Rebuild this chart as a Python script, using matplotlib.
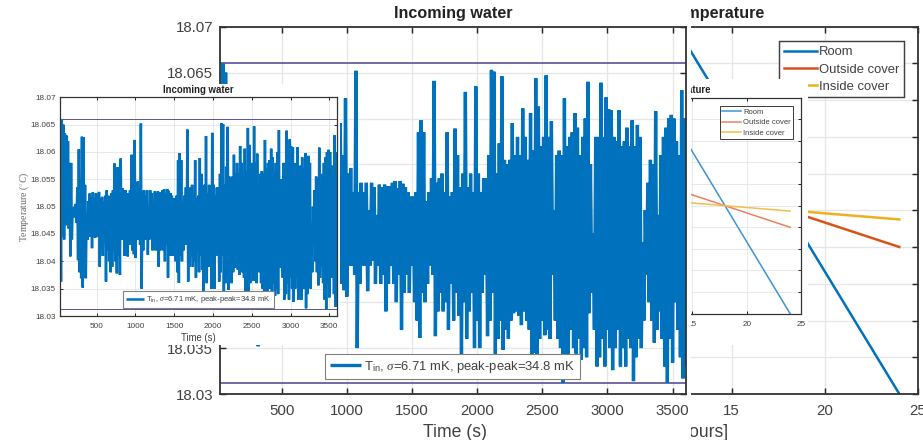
import numpy as np
import matplotlib
matplotlib.use("Agg")
import matplotlib.pyplot as plt
from matplotlib.patches import Rectangle

plt.rcParams['font.family'] = ['Liberation Sans', 'DejaVu Sans']
plt.rcParams['mathtext.fontset'] = 'custom'
plt.rcParams['mathtext.rm'] = 'Liberation Sans'
plt.rcParams['mathtext.it'] = 'Liberation Serif:italic'

W, H = 923, 440
BLUE, RED, YEL = '#0072BD', '#D95319', '#EDB120'
BLUE2, RED2, YEL2 = '#3F93CF', '#E9835F', '#F2BE4E'
PURPLE = '#5B5299'
GRID = '#E6E6E6'
TXT = '#404040'

# ---- data (water: mK above 18 C, sampled every 20 s)
water_time = np.arange(30, 3600, 20)
water_high = [
 58.5,66,65,63.4,63, 62,58,58,49.5,50, 50.5,53.5,60.5,55,62.8, 62.7,54,48.5,51,52.4,
 51.5,52.6,51.5,52.5,52.2, 52.7,51.5,51.8,51,52, 53,52,51.5,52.5,53, 57.9,55,57.2,53,58.8,
 53.4,52,53,52,52.5, 53,59.5,56,62.2,54, 54.6,52,65.2,52,53, 52,53,50,53,52.5,
 49.5,52.8,52.5,52.8,52.6, 52.6,53,53.2,52.4,53.2, 52.9,52.5,52,51.5,51.5, 52,58.5,59.8,58.5,51,
 52,53.5,64.1,53,53.5, 54,52,58.5,51.5,52, 58.9,56,52.5,54,62.9, 52.5,54,52,63.5,54,
 52,53.5,53.5,56,65.3, 65.1,54,57.3,64.6,55.5, 55,55.5,59.5,56,58, 56,61.1,58,55.5,60.6,
 56.5,64.4,61.3,57,58, 64.7,58,59.7,50,56, 56.5,56,62.2,57,58, 58.5,60.6,59,56,58,
 60,64,55,47.5,58, 58,63.9,58,62.3,61, 60.9,58,57.5,60.9,57, 57.5,59,57,59.8,57,
 59.3,58,46.5,50,53, 55.5,55,60.8,49.5,56, 58,59,60,60.4,60, 57.5,56,63.1,60]
water_low = [
 36.3,44.5,44,46.6,47, 46,40.9,44,48,48.8, 47,40.2,38,36.9,35.2, 37,36.9,43.9,45,44.5,
 42.4,44.5,44.3,44.5,44.5, 39,43,41,44,36.3, 42,40,38,39,42, 40,37.8,41,37.5,44,
 44,41,43,40.9,43, 44,42,41.3,40.6,44, 44,43,35,42,44, 44,41.2,44,44.5,42,
 44,42,43,39,42, 44,42,40,43,37, 41,43,41,44,40, 38,36.1,41,40,42,
 44,43,36.3,39,41, 39,40,37,42,38, 41,38.5,34.2,40,36, 39,41,35,38,35,
 41,43,36.3,38,41, 34.4,36,38,34.8,37, 36,38,38.8,39,38.5, 37.5,39,38,37,34,
 34.5,34,36,38,36.4, 37,36,43,38,36, 35,31.2,33,34,37, 35,34.4,36,33.7,35,
 34,38.8,41,37,33, 34,36,33,37,35, 32.6,35,37,33,35, 33,36,35,31.4,34,
 36,35,38,43,40, 38,35.6,37,39,36, 33,31.2,36,33.4,40, 37,34,31.7,33]
peak_max = 18.0660
peak_min = 18.0312

water_yticks = [18.03, 18.035, 18.04, 18.045, 18.05, 18.055, 18.06, 18.065, 18.07]
water_ylabels = ['18.03', '18.035', '18.04', '18.045', '18.05', '18.055', '18.06', '18.065', '18.07']
water_xticks = [500, 1000, 1500, 2000, 2500, 3000, 3500]

hours = [12, 18, 24]
room = [10, 5, 0]
outside = [6, 5, 4]
inside = [5.25, 5, 4.75]
temp_xticks = [0, 5, 10, 15, 20, 25]
temp_yticks = list(range(11))

water_legend = r'T$_{\mathrm{in}}$, $\mathit{\sigma}$=6.71 mK, peak-peak=34.8 mK'


def box(l, t, r, b):
    return [l / W, 1 - b / H, (r - l) / W, (b - t) / H]


fig = plt.figure(figsize=(W / 100, H / 100), dpi=100, facecolor='white')


def white(l, t, r, b, z):
    fig.add_artist(Rectangle((l / W, 1 - b / H), (r - l) / W, (b - t) / H,
                             transform=fig.transFigure, fc='white', ec='none', zorder=z))


def style(ax, fs, lw, tl, xpad, ypad):
    for s in ax.spines.values():
        s.set_linewidth(lw)
        s.set_color('#333333')
    ax.tick_params(direction='in', top=True, right=True, labelsize=fs, width=lw * 0.8,
                   length=tl, color='#262626', labelcolor=TXT)
    ax.tick_params(axis='x', pad=xpad)
    ax.tick_params(axis='y', pad=ypad)
    ax.grid(True, color=GRID, lw=lw * 0.7)
    ax.set_axisbelow(True)


def temp_chart(rect, z, fs, lwline, lwbox, tl, legfs, legpos, xpad, cols):
    ax = fig.add_axes(rect, zorder=z)
    style(ax, fs, lwbox, tl, xpad, 3)
    ax.plot(hours, room, color=cols[0], lw=lwline, label='Room')
    ax.plot(hours, outside, color=cols[1], lw=lwline, label='Outside cover')
    ax.plot(hours, inside, color=cols[2], lw=lwline, label='Inside cover')
    ax.set_xlim(0, 25)
    ax.set_ylim(0, 10)
    ax.set_xticks(temp_xticks)
    ax.set_yticks(temp_yticks)
    ax.set_yticklabels([])
    ax.legend(loc='center', bbox_to_anchor=(legpos[0] / W, 1 - legpos[1] / H),
              bbox_transform=fig.transFigure, fontsize=legfs, fancybox=False, framealpha=1,
              edgecolor='#404040', labelcolor=TXT, handlelength=2.5, labelspacing=0.4,
              borderpad=0.35, handletextpad=0.2, borderaxespad=0).get_frame().set_linewidth(lwbox * 0.8)
    return ax


def water_chart(rect, z, fs, lwline, lwref, lwbox, tl, legfs, legpos, handle, bpad, xpad, ypad):
    ax = fig.add_axes(rect, zorder=z)
    style(ax, fs, lwbox, tl, xpad, ypad)
    t = np.column_stack([water_time, water_time + 10]).ravel()
    v = 18 + np.column_stack([water_high, water_low]).ravel() / 1000
    ax.axhline(peak_max, color=PURPLE, lw=lwref)
    ax.axhline(peak_min, color=PURPLE, lw=lwref)
    ax.plot(t, v, color=BLUE, lw=lwline, solid_joinstyle='bevel', solid_capstyle='butt',
            label=water_legend)
    ax.set_xlim(27, 3603)
    ax.set_ylim(18.03, 18.07)
    ax.set_xticks(water_xticks)
    ax.set_yticks(water_yticks)
    ax.set_yticklabels(water_ylabels)
    ax.legend(loc='center', bbox_to_anchor=(legpos[0] / W, 1 - legpos[1] / H),
              bbox_transform=fig.transFigure, fontsize=legfs, fancybox=False, framealpha=1,
              edgecolor='#808080', labelcolor=TXT, handlelength=handle, borderpad=bpad,
              handletextpad=0.25, borderaxespad=0).get_frame().set_linewidth(0.8)
    return ax


# ---- back layer: room temperature, large
big_t = temp_chart(box(452, 26.5, 918, 394), 1, 10.8, 1.8, 1.3, 4, 9.4, (841.8, 69.5), 7.3,
                   (BLUE, RED, YEL))
fig.text(765 / W, 1 - 13.5 / H, 'Temperature', ha='right', va='center', fontsize=11.6,
         fontweight='bold', color='#222222', zorder=1)
fig.text(728 / W, 1 - 432 / H, 'Time [hours]', ha='right', va='center', fontsize=12.7,
         color=TXT, zorder=1)

# ---- room temperature, small copy
white(691, 79, 808, 345, 2)
small_t = temp_chart(box(529.5, 97.7, 801, 313.7), 3, 5.9, 1.1, 0.9, 2.5, 5.5, (756.5, 122.6), 5,
                     (BLUE2, RED2, YEL2))
fig.text(711.7 / W, 1 - 90 / H, 'Temperature', ha='right', va='center', fontsize=6.9,
         fontweight='bold', color='#222222', zorder=3)

# ---- incoming water, large
white(0, 0, 691, H, 4)
big_w = water_chart(box(220, 26.7, 686, 394), 5, 10.8, 2.4, 1.2, 1.3, 4, 9.4, (452.5, 366.5), 2.4,
                    0.35, 7.3, 5)
big_w.set_title('Incoming water', fontsize=11.6, fontweight='bold', color='#222222', pad=6)
big_w.set_xlabel('Time (s)', fontsize=12.7, color=TXT, labelpad=4, x=0.505)

# ---- incoming water, small copy
white(0, 84, 340, 345, 6)
small_w = water_chart(box(60, 97.3, 337.3, 316), 7, 5.9, 1.8, 0.7, 0.9, 2.5, 5.5, (198.5, 299.7), 2.4,
                      0.4, 5, 3)
small_w.set_title('Incoming water', fontsize=6.9, fontweight='bold', color='#222222', pad=3)
small_w.set_xlabel('Time (s)', fontsize=6.9, color=TXT, labelpad=2)
small_w.set_ylabel(r'Temperature ($^{\circ}\mathit{C}$)', fontsize=7, color='#666666',
                   family='Liberation Serif', labelpad=0)

fig.savefig('out.png', dpi=100, facecolor='white')
